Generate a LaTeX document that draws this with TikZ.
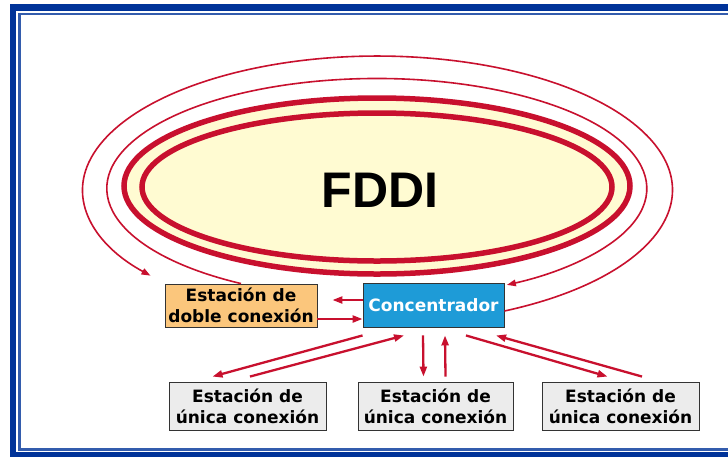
\documentclass[tikz,border=0pt]{standalone}
\usepackage{fontspec}
\setmainfont{DejaVu Sans}
\newfontfamily\fddifont{Liberation Sans}
\usetikzlibrary{arrows.meta}
\definecolor{ringred}{HTML}{C8102E}
\definecolor{ringfill}{HTML}{FFFBD2}
\definecolor{frameblue}{HTML}{003399}
\definecolor{concblue}{HTML}{1E9BD7}
\definecolor{dobleorange}{HTML}{FBC67C}
\definecolor{unicagray}{HTML}{ECECEC}

\begin{document}
\begin{tikzpicture}[x=1pt,y=1pt,
  box/.style={draw=black!80,line width=0.9pt,inner sep=0pt,align=center,
    font=\bfseries\fontsize{17}{21}\selectfont},
  unica/.style={box,fill=unicagray,minimum width=157,minimum height=48},
  link/.style={ringred,line width=2.3pt,-{Triangle[length=10pt,width=7pt]}},
  ring/.style={ringred,line width=1.6pt,-{Triangle[length=9pt,width=6.5pt]}}]
\useasboundingbox (0,0) rectangle (728,-456);
\clip (0,0) rectangle (728,-456);
\fill[white] (0,0) rectangle (728,-456);
\draw[frameblue,line width=6.5pt] (13,-7.5) rectangle (740,-455);
\draw[frameblue!80!white,line width=2.8pt] (19.5,-14) rectangle (735,-449.5);

\filldraw[fill=ringfill,draw=ringred,line width=5.5pt] (377,-186) ellipse[x radius=253,y radius=88];
\draw[ringred,line width=5.5pt] (377,-187) ellipse[x radius=235,y radius=74];
\node[font=\fddifont\bfseries\fontsize{50}{50}\selectfont] (fddi) at (380,-190) {FDDI};

\node[box,fill=dobleorange,minimum width=152,minimum height=43] (doble) at (241,-305.5) {Estación de\\doble conexión};
\node[box,fill=concblue,text=white,minimum width=141,minimum height=44] (conc) at (433.5,-305) {Concentrador};
\node[unica] (s1) at (247.5,-406) {Estación de\\única conexión};
\node[unica,minimum width=155] (s2) at (435.5,-406) {Estación de\\única conexión};
\node[unica] (s3) at (620.5,-406) {Estación de\\única conexión};

\draw[ring] ([yshift=-6pt]conc.east) arc[start angle=-64.5,end angle=219.7,x radius=295,y radius=134];
\draw[ring] (doble.north) arc[start angle=239.8,end angle=-61.2,x radius=270,y radius=110];

\draw[link] ([yshift=5pt]conc.west) -- ([xshift=15pt,yshift=5.5pt]doble.east);
\draw[link] ([yshift=-13.5pt]doble.east) -- ([yshift=-14pt]conc.west);
\draw[link] ([yshift=-8pt]conc.south west) -- ([xshift=-35pt,yshift=5pt]s1.north);
\draw[link] ([xshift=2.5pt,yshift=5pt]s1.north) -- ([xshift=-29.5pt,yshift=-8pt]conc.south);
\draw[link] ([xshift=-10.5pt,yshift=-8pt]conc.south) -- ([xshift=-12pt,yshift=5pt]s2.north);
\draw[link] ([xshift=10pt,yshift=5pt]s2.north) -- ([xshift=11.5pt,yshift=-8pt]conc.south);
\draw[link] ([xshift=32.5pt,yshift=-8pt]conc.south) -- ([xshift=-13pt,yshift=5pt]s3.north);
\draw[link] ([xshift=21.5pt,yshift=5pt]s3.north) -- ([xshift=62.5pt,yshift=-8pt]conc.south);
\end{tikzpicture}
\end{document}
